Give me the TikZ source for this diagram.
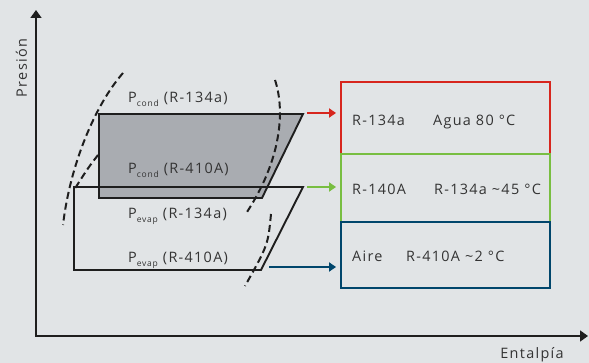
\documentclass[tikz,border=0pt]{standalone}
\usepackage{fontspec}
\setmainfont[LetterSpace=9]{Open Sans}
\usetikzlibrary{arrows.meta}
\definecolor{bg}{HTML}{E1E4E6}
\definecolor{ink}{HTML}{1E1E1E}
\definecolor{txt}{HTML}{333333}
\definecolor{cyclegray}{HTML}{A9ACB1}
\definecolor{hotred}{HTML}{D7261E}
\definecolor{midgreen}{HTML}{78BE41}
\definecolor{coldblue}{HTML}{00466C}
% pressure label with low subscript
\newcommand{\psub}[1]{P\raisebox{-0.5ex}{\fontsize{8.5}{8.5}\selectfont #1}}

\begin{document}
\begin{tikzpicture}[x=1pt,y=-1pt,
  axis/.style={ink,line width=1.8pt,{Triangle[width=11pt,length=8pt]}-{Triangle[width=11pt,length=8pt]}},
  cycleline/.style={ink,line width=1.9pt,line join=miter},
  satline/.style={ink,line width=2pt,dash pattern=on 7pt off 4pt},
  lbl/.style={anchor=base west,inner sep=0pt,text=txt,font=\fontsize{14.4}{16}\selectfont},
  tempbox/.style={draw,line width=1.9pt,minimum width=209pt,inner sep=0pt},
  feed/.style={line width=1.9pt,-{Triangle[width=9pt,length=7pt]},shorten >=4pt},
]
\fill[bg] (0,0) rectangle (589,363);

% axes
\coordinate (o) at (36,336);
\coordinate (ptop) at (36,10);
\coordinate (hend) at (588,336);
\draw[axis] (ptop) -- (o) -- (hend);
\node[lbl,anchor=base,rotate=90] (pres) at (27,68) {Presión};
\node[lbl,anchor=base] (enth) at (532,359) {Entalpía};

% cycles
\fill[cyclegray] (99,114) -- (303,114) -- (262,198) -- (99,198) -- cycle;
\draw[cycleline] (99,114) -- (303,114) -- (262,198) -- (99,198) -- cycle;
\draw[cycleline] (74,187) -- (303,187) -- (261,270) -- (74,270) -- cycle;

% saturation curves
\draw[satline] (123,73) .. controls (95,105) and (70,165) .. (63,225);
\draw[satline] (98,155) .. controls (88,168) .. (74,190);
\draw[satline] (275,80) .. controls (285,110) and (282,160) .. (245,215);
\draw[satline] (271,214) .. controls (268,245) .. (245,286);

% pressure levels
\node[lbl] (pc1) at (128,103) {\psub{cond} (R-134a)};
\node[lbl] (pc2) at (128,174) {\psub{cond} (R-410A)};
\node[lbl] (pe1) at (128,219) {\psub{evap} (R-134a)};
\node[lbl] (pe2) at (128,263) {\psub{evap} (R-410A)};

% boxes
\node[tempbox,draw=hotred,minimum height=72pt] (rbox) at (445.5,118) {};
\node[tempbox,draw=midgreen,minimum height=68pt] (gbox) at (445.5,188) {};
\node[tempbox,draw=coldblue,minimum height=66pt] (bbox) at (445.5,255) {};
\node[lbl] (r1) at (352,125.5) {R-134a};
\node[lbl] (r2) at (433,125.5) {Agua 80 °C};
\node[lbl] (g1) at (352,195) {R-140A};
\node[lbl] (g2) at (434,195) {R-134a \textasciitilde45 °C};
\node[lbl] (b1) at (352,262) {Aire};
\node[lbl] (b2) at (406,262) {R-410A \textasciitilde2 °C};

% arrows
\coordinate (ra) at (307,113);
\coordinate (ga) at (307,187);
\coordinate (ba) at (269,267);
\draw[feed,hotred] (ra) -- (ra -| rbox.west);
\draw[feed,midgreen] (ga) -- (ga -| gbox.west);
\draw[feed,coldblue] (ba) -- (ba -| bbox.west);
\end{tikzpicture}
\end{document}
